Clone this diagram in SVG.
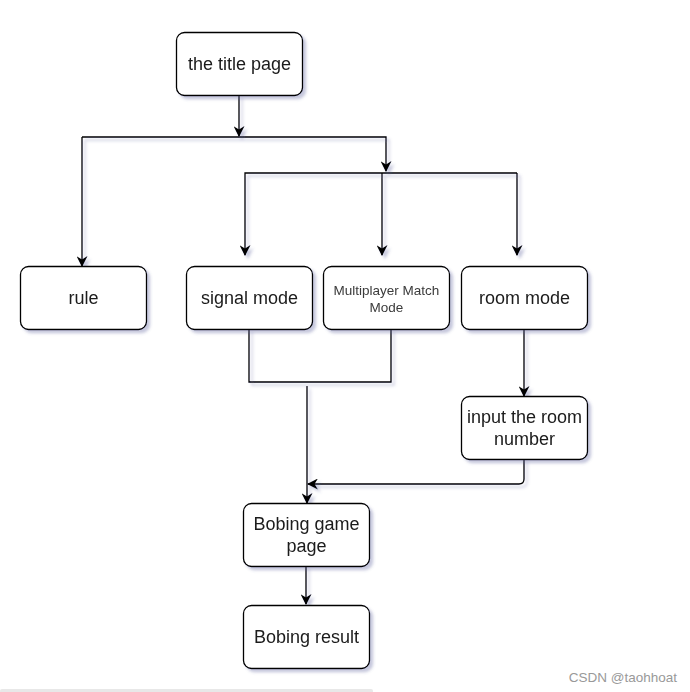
<svg xmlns="http://www.w3.org/2000/svg" width="690" height="692" viewBox="0 0 690 692">
<style>
.box{fill:#ffffff;stroke:#000000;stroke-width:1.3}
.lbl{font-family:"Liberation Sans",Arial,sans-serif;font-size:18px;fill:#1a1a1a;text-anchor:middle}
.sm{font-family:"Liberation Sans",Arial,sans-serif;font-size:13.5px;fill:#3a3a3a;text-anchor:middle}
.ln{fill:none;stroke:#000000;stroke-width:1.3}
</style>
<defs>
<filter id="sh" x="-20%" y="-20%" width="150%" height="150%">
<feDropShadow dx="3" dy="3" stdDeviation="1.8" flood-color="#5a5f9a" flood-opacity="0.35"/>
</filter>
<marker id="ar" viewBox="0 0 10 10" refX="9" refY="5" markerWidth="11" markerHeight="11" markerUnits="userSpaceOnUse" orient="auto">
<path d="M0,0 L10,5 L0,10 L3,5 Z" fill="#000000"/>
</marker>
</defs>
<rect width="690" height="692" fill="#ffffff"/>
<rect x="0" y="689" width="373" height="4" rx="2" fill="#e8e8e8"/>
<g id="connectors" filter="url(#sh)">
<path class="ln" d="M239,95 V136" marker-end="url(#ar)"/>
<path class="ln" d="M82,137 H386 V171" marker-end="url(#ar)"/>
<path class="ln" d="M82,137 V266" marker-end="url(#ar)"/>
<path class="ln" d="M517,173 H245 V255" marker-end="url(#ar)"/>
<path class="ln" d="M517,173 V255" marker-end="url(#ar)"/>
<path class="ln" d="M382,173 V255" marker-end="url(#ar)"/>
<path class="ln" d="M249,329 V382 H391 V329"/>
<path class="ln" d="M307,386 V503" marker-end="url(#ar)"/>
<path class="ln" d="M524,329 V396" marker-end="url(#ar)"/>
<path class="ln" d="M524,459 V479 Q524,484 519,484 H308" marker-end="url(#ar)"/>
<path class="ln" d="M306,566 V604" marker-end="url(#ar)"/>
</g>
<g id="title" filter="url(#sh)">
<rect class="box" x="176.5" y="32.5" width="126" height="63" rx="8"/>
<text class="lbl" x="239.5" y="69.5">the title page</text>
</g>
<g id="rule" filter="url(#sh)">
<rect class="box" x="20.5" y="266.5" width="126" height="63" rx="8"/>
<text class="lbl" x="83.5" y="303.5">rule</text>
</g>
<g id="signal" filter="url(#sh)">
<rect class="box" x="186.5" y="266.5" width="126" height="63" rx="8"/>
<text class="lbl" x="249.5" y="303.5">signal mode</text>
</g>
<g id="multi" filter="url(#sh)">
<rect class="box" x="323.5" y="266.5" width="126" height="63" rx="8"/>
<text class="sm" x="386.5" y="295">Multiplayer Match</text>
<text class="sm" x="386.5" y="311.5">Mode</text>
</g>
<g id="room" filter="url(#sh)">
<rect class="box" x="461.5" y="266.5" width="126" height="63" rx="8"/>
<text class="lbl" x="524.5" y="303.5">room mode</text>
</g>
<g id="input" filter="url(#sh)">
<rect class="box" x="461.5" y="396.5" width="126" height="63" rx="8"/>
<text class="lbl" x="524.5" y="423">input the room</text>
<text class="lbl" x="524.5" y="445">number</text>
</g>
<g id="game" filter="url(#sh)">
<rect class="box" x="243.5" y="503.5" width="126" height="63" rx="8"/>
<text class="lbl" x="306.5" y="530">Bobing game</text>
<text class="lbl" x="306.5" y="552">page</text>
</g>
<g id="result" filter="url(#sh)">
<rect class="box" x="243.5" y="605.5" width="126" height="63" rx="8"/>
<text class="lbl" x="306.5" y="642.5">Bobing result</text>
</g>
<text x="677" y="682" font-family="Liberation Sans,Arial,sans-serif" font-size="13.5" fill="#999999" text-anchor="end">CSDN @taohhoat</text>
</svg>
